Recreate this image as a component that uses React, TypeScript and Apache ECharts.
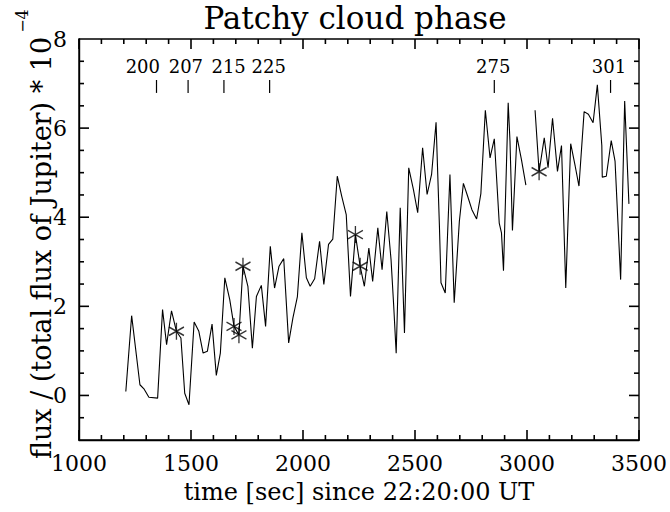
import React, { useEffect, useRef } from "react";
import * as echarts from "echarts";

const times = [
  1209, 1235, 1272, 1291, 1312, 1351, 1373, 1391, 1413, 1435, 1455, 1472, 1491, 1514, 1535, 1554, 1573, 1594, 1613, 1631,
  1651, 1673, 1692, 1714, 1732, 1754, 1774, 1792, 1814, 1833, 1854, 1873, 1893, 1914, 1936, 1955, 1975, 1995, 2015, 2032,
  2052, 2074, 2093, 2114, 2133, 2153, 2173, 2193, 2212, 2234, 2255, 2274, 2294, 2311, 2334, 2353, 2374, 2393, 2405, 2416,
  2434, 2453, 2472, 2493, 2512, 2534, 2554, 2574, 2594, 2609, 2616, 2635, 2656, 2675, 2698, 2716, 2735, 2754, 2775, 2794,
  2814, 2835, 2854, 2876, 2886, 2895, 2916, 2924, 2935, 2955, 2975, 2995, 3015, 3036, 3054, 3077, 3094, 3114, 3136, 3154,
  3173, 3195, 3215, 3232, 3255, 3274, 3295, 3314, 3334, 3336, 3354, 3376, 3393, 3418, 3436, 3455,
];
const flux = [
  0.09, 1.79, 0.24, 0.14, -0.04, -0.06, 1.93, 1.14, 1.9, 1.44, 1.29, 0.05, -0.21, 1.65, 1.44, 0.95, 0.99, 1.6, 0.45, 0.95,
  2.64, 2.15, 1.55, 1.36, 2.9, 2.45, 1.06, 2.22, 2.47, 1.55, 3.35, 2.41, 2.9, 3.07, 1.18, 1.74, 2.22, 3.65, 2.64, 2.45,
  2.62, 3.46, 2.49, 3.39, 3.51, 4.92, 4.47, 4.06, 2.22, 3.61, 2.9, 2.45, 3.31, 2.56, 3.76, 2.82, 4.13, 3.05, 2.0, 0.95,
  4.21, 1.4, 5.11, 4.62, 4.1, 5.56, 4.51, 4.96, 6.13, 3.8, 2.53, 2.3, 4.96, 2.08, 3.91, 4.76, 4.47, 4.17, 3.96, 4.53,
  6.4, 5.33, 5.76, 3.87, 3.65, 2.8, 6.57, 5.71, 3.7, 5.81, 5.3, 4.72, null, 6.4, 5.02, 5.78, 5.11, 6.22, 5.03, 5.61,
  2.41, 5.65, 5.15, 4.7, 6.37, 6.31, 6.12, 6.97, 5.61, 4.9, 4.92, 5.72, 5.26, 2.6, 6.61, 4.3,
];

const starTimes = [1435, 1692, 1714, 1732, 2234, 2255, 3054];
const starFlux = [1.44, 1.55, 1.36, 2.9, 3.61, 2.9, 5.02];

const scanNumbers = ["200", "207", "215", "225", "275", "301"];
const scanTimes = [1346, 1487, 1647, 1851, 2854, 3373];
const scanLabelTimes = [1285, 1477, 1668, 1847, 2849, 3366];

const xMin = 1000;
const xMax = 3500;
const xStep = 500;
const xMinorStep = 100;
const yMin = -1;
const yMax = 8;
const yMajorTicks = [0, 2, 4, 6, 8];
const yMinorStep = 0.5;

const FONT = '"DejaVu Serif"';

export default function App() {
  const ref = useRef<HTMLDivElement>(null);

  useEffect(() => {
    document.body.style.margin = "0";
    if (!ref.current) return;
    const chart = echarts.init(ref.current, undefined, { renderer: "svg" });
    const black = "#000";
    const labelStyle = { color: black, fontFamily: "DejaVu Serif", fontSize: 22 };

    const lineData = times.map((t, i) => [t, flux[i]]);
    const starData = starTimes.map((t, i) => [t, starFlux[i]]);
    const scanData = scanTimes.map((t, i) => [t, 7, scanLabelTimes[i]]);
    const asterisk = "path://M0,-10L0,10M-8.66,-5L8.66,5M-8.66,5L8.66,-5";

    const xTickList: number[][] = [];
    for (let v = xMin; v <= xMax; v += xMinorStep) xTickList.push([v, (v - xMin) % xStep === 0 ? 10 : 5]);
    const yTickList: number[][] = [];
    for (let k = 1; yMin + k * yMinorStep < yMax; k++) {
      const v = yMin + k * yMinorStep;
      yTickList.push([v, yMajorTicks.indexOf(v) >= 0 ? 10 : 5]);
    }

    const frameTicks = (api: any) => {
      const children: any[] = [];
      const seg = (x1: number, y1: number, x2: number, y2: number) =>
        children.push({ type: "line", shape: { x1, y1, x2, y2 }, style: { stroke: black, lineWidth: 1.6 } });
      xTickList.forEach(([v, len]) => {
        const b = api.coord([v, yMin]);
        const t = api.coord([v, yMax]);
        seg(b[0], b[1], b[0], b[1] - len);
        seg(t[0], t[1], t[0], t[1] + len);
      });
      yTickList.forEach(([v, len]) => {
        const l = api.coord([xMin, v]);
        const r = api.coord([xMax, v]);
        seg(l[0], l[1], l[0] + len, l[1]);
        seg(r[0], r[1], r[0] - len, r[1]);
      });
      return children;
    };

    const option: any = {
      animation: false,
      backgroundColor: "#fff",
      grid: { left: 79, right: 30, top: 39, bottom: 72, show: true, borderColor: black, borderWidth: 1.4, backgroundColor: "transparent" },
      xAxis: {
        type: "value",
        min: xMin,
        max: xMax,
        interval: xStep,
        axisLine: { show: true, onZero: false, lineStyle: { color: black, width: 1.4 } },
        axisTick: { show: false },
        axisLabel: { ...labelStyle, margin: 12, formatter: (v: number) => String(v) },
        splitLine: { show: false },
        name: "time [sec] since 22:20:00 UT",
        nameLocation: "middle",
        nameGap: 40,
        nameTextStyle: { color: black, fontFamily: "DejaVu Serif", fontSize: 24 },
      },
      yAxis: {
        type: "value",
        min: yMin,
        max: yMax,
        axisLine: { show: true, onZero: false, lineStyle: { color: black, width: 1.4 } },
        axisTick: { show: false },
        axisLabel: { ...labelStyle, margin: 12, customValues: yMajorTicks },
        splitLine: { show: false },
      },
      graphic: [
        {
          type: "text",
          x: 355,
          y: 18,
          style: { text: "Patchy cloud phase", font: `31px ${FONT}`, fill: black, align: "center", verticalAlign: "middle" },
        },
        {
          type: "text",
          x: 55,
          y: 248,
          rotation: Math.PI / 2,
          style: { text: "flux / (total flux of Jupiter) * 10", font: `27px ${FONT}`, fill: black, align: "center", verticalAlign: "bottom" },
        },
        {
          type: "text",
          x: 30,
          y: 21,
          rotation: Math.PI / 2,
          style: { text: "\u22124", font: `16px ${FONT}`, fill: black, align: "center", verticalAlign: "bottom" },
        },
      ],
      series: [
        {
          type: "line",
          data: lineData,
          showSymbol: false,
          symbol: "none",
          connectNulls: false,
          lineStyle: { color: black, width: 1.1 },
        },
        {
          type: "scatter",
          data: starData,
          symbol: asterisk,
          symbolSize: [15, 17],
          itemStyle: { color: "transparent", borderColor: black, borderWidth: 1.4 },
        },
        {
          type: "custom",
          clip: false,
          data: scanData,
          encode: { x: 0, y: 1 },
          renderItem: (params: any, api: any) => {
            const t = api.value(0);
            const lt = api.value(2);
            const p1 = api.coord([t, 7.08]);
            const p2 = api.coord([t, 6.79]);
            const pl = api.coord([lt, 7.38]);
            const children: any[] = [
              { type: "line", shape: { x1: p1[0], y1: p1[1], x2: p2[0], y2: p2[1] }, style: { stroke: black, lineWidth: 1.2 } },
              {
                type: "text",
                x: pl[0],
                y: pl[1],
                style: { text: scanNumbers[params.dataIndex], font: `18px ${FONT}`, fill: black, align: "center", verticalAlign: "middle" },
              },
            ];
            if (params.dataIndex === 0) children.push(...frameTicks(api));
            return { type: "group", children };
          },
        },
      ],
    };

    chart.setOption(option);
    return () => chart.dispose();
  }, []);

  return <div ref={ref} style={{ width: 670, height: 512 }} />;
}
